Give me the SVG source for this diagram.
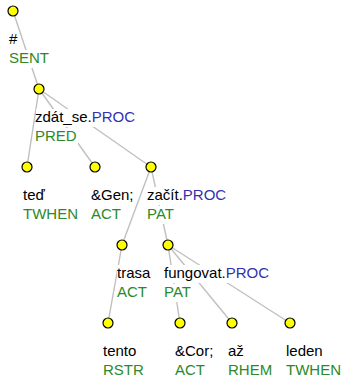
<svg xmlns="http://www.w3.org/2000/svg" width="343" height="378" viewBox="0 0 343 378">
<style>
.e{stroke:#c0c0c0;stroke-width:1.4;fill:none}
.n{fill:#ffff00;stroke:#000;stroke-width:1.2}
.bg{fill:#fff}
text{font-family:"Liberation Sans",Arial,sans-serif;font-size:15px}
.k{fill:#000}
.f{fill:#2a8a2a}
.p{fill:#3232b0}
</style>
<rect width="343" height="378" fill="#fff"/>
<g id="edges">
<line class="e" x1="13" y1="11" x2="39" y2="89"/>
<line class="e" x1="39" y1="89" x2="27" y2="167"/>
<line class="e" x1="39" y1="89" x2="95" y2="167"/>
<line class="e" x1="39" y1="89" x2="151" y2="167"/>
<line class="e" x1="151" y1="167" x2="122" y2="245"/>
<line class="e" x1="151" y1="167" x2="168" y2="245"/>
<line class="e" x1="122" y1="245" x2="108" y2="323"/>
<line class="e" x1="168" y1="245" x2="180" y2="323"/>
<line class="e" x1="168" y1="245" x2="232" y2="323"/>
<line class="e" x1="168" y1="245" x2="290" y2="323"/>
</g>
<g id="n-root">
<rect class="bg" x="9" y="31" width="8" height="18"/>
<rect class="bg" x="9" y="50" width="40" height="18"/>
<text class="k" x="9" y="44">#</text>
<text class="f" x="9" y="63">SENT</text>
<circle class="n" cx="13" cy="11" r="5"/>
</g>
<g id="n-zdat">
<rect class="bg" x="36" y="109" width="100" height="18"/>
<rect class="bg" x="36" y="128" width="42" height="18"/>
<text class="k" x="35" y="122">zdát_se.<tspan class="p">PROC</tspan></text>
<text class="f" x="35" y="141">PRED</text>
<circle class="n" cx="39" cy="89" r="5"/>
</g>
<g id="n-ted">
<rect class="bg" x="23" y="187" width="22" height="18"/>
<rect class="bg" x="23" y="206" width="55" height="18"/>
<text class="k" x="23" y="200">teď</text>
<text class="f" x="23" y="219">TWHEN</text>
<circle class="n" cx="27" cy="167" r="5"/>
</g>
<g id="n-gen">
<rect class="bg" x="91" y="187" width="42" height="18"/>
<rect class="bg" x="91" y="206" width="30" height="18"/>
<text class="k" x="91" y="200">&amp;Gen;</text>
<text class="f" x="91" y="219">ACT</text>
<circle class="n" cx="95" cy="167" r="5"/>
</g>
<g id="n-zacit">
<rect class="bg" x="147" y="187" width="79" height="18"/>
<rect class="bg" x="147" y="206" width="29" height="18"/>
<text class="k" x="147" y="200">začít.<tspan class="p">PROC</tspan></text>
<text class="f" x="147" y="219">PAT</text>
<circle class="n" cx="151" cy="167" r="5"/>
</g>
<g id="n-trasa">
<rect class="bg" x="117" y="265" width="33" height="18"/>
<rect class="bg" x="117" y="284" width="30" height="18"/>
<text class="k" x="117" y="278">trasa</text>
<text class="f" x="117" y="297">ACT</text>
<circle class="n" cx="122" cy="245" r="5"/>
</g>
<g id="n-fungovat">
<rect class="bg" x="164" y="265" width="105" height="18"/>
<rect class="bg" x="164" y="284" width="29" height="18"/>
<text class="k" x="164" y="278">fungovat.<tspan class="p">PROC</tspan></text>
<text class="f" x="164" y="297">PAT</text>
<circle class="n" cx="168" cy="245" r="5"/>
</g>
<g id="n-tento">
<text class="k" x="103" y="356">tento</text>
<text class="f" x="103" y="375">RSTR</text>
<circle class="n" cx="108" cy="323" r="5"/>
</g>
<g id="n-cor">
<text class="k" x="175" y="356">&amp;Cor;</text>
<text class="f" x="175" y="375">ACT</text>
<circle class="n" cx="180" cy="323" r="5"/>
</g>
<g id="n-az">
<text class="k" x="228" y="356">až</text>
<text class="f" x="228" y="375">RHEM</text>
<circle class="n" cx="232" cy="323" r="5"/>
</g>
<g id="n-leden">
<text class="k" x="286" y="356">leden</text>
<text class="f" x="286" y="375">TWHEN</text>
<circle class="n" cx="290" cy="323" r="5"/>
</g>
</svg>
